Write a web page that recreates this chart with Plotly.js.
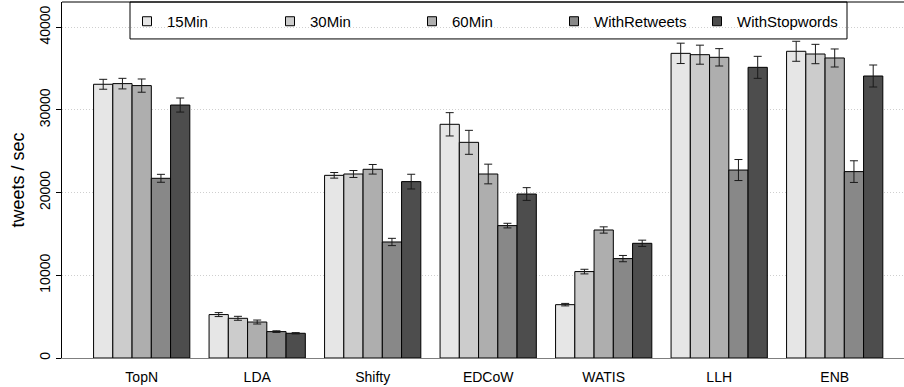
<!DOCTYPE html>
<html>
<head>
<meta charset="utf-8">
<script src="https://cdn.plot.ly/plotly-3.0.1.min.js"></script>
<style>
  html, body { margin: 0; padding: 0; background: #ffffff; }
  #chart { width: 904px; height: 387px; }
</style>
</head>
<body>
<div id="chart"></div>
<script>
// ---- data ----
const categories = ["TopN", "LDA", "Shifty", "EDCoW", "WATIS", "LLH", "ENB"];
const seriesNames = ["15Min", "30Min", "60Min", "WithRetweets", "WithStopwords"];

const min15       = [33100, 5250, 22090, 28260, 6450, 36840, 37090];
const min30       = [33180, 4800, 22250, 26080, 10450, 36680, 36760];
const min60       = [32940, 4350, 22820, 22250, 15480, 36360, 36280];
const withRetweets  = [21730, 3190, 14030, 16010, 12020, 22730, 22540];
const withStopwords = [30590, 2990, 21330, 19830, 13870, 35150, 34100];

const err15       = [600, 240, 340, 1410, 150, 1230, 1210];
const err30       = [640, 240, 420, 1450, 280, 1150, 1170];
const err60       = [800, 240, 580, 1190, 380, 1050, 1090];
const errRetweets = [480, 100, 440, 280, 380, 1270, 1310];
const errStopwords= [850, 80, 890, 770, 380, 1330, 1330];

const yTicks = [0, 10000, 20000, 30000, 40000];

// ---- styling ----
const values = [min15, min30, min60, withRetweets, withStopwords];
const errors = [err15, err30, err60, errRetweets, errStopwords];
const colors = ["#E6E6E6", "#CCCCCC", "#AEAEAE", "#888888", "#4D4D4D"];
const FONT = "Liberation Sans, Arial, Helvetica, sans-serif";

// legend key centres (px) in the reference
const legendKeyPx = [147, 290, 432, 574, 717];
const legendIds = ["legend", "legend2", "legend3", "legend4", "legend5"];

const traces = [];
values.forEach((v, i) => {
  traces.push({
    type: "bar",
    name: seriesNames[i],
    x: categories,
    y: v,
    showlegend: false,
    marker: { color: colors[i], line: { color: "#000000", width: 1 } },
    error_y: { type: "data", array: errors[i], visible: true,
               color: "#1a1a1a", thickness: 1, width: 4 },
    hoverinfo: "x+y+name"
  });
});
// legend entries (small square keys like the reference)
values.forEach((v, i) => {
  traces.push({
    type: "scatter",
    mode: "markers",
    name: seriesNames[i],
    x: [categories[0]],
    y: [null],
    showlegend: true,
    legend: legendIds[i],
    marker: { symbol: "square", size: 9, color: colors[i],
              line: { color: "#000000", width: 1 } },
    hoverinfo: "skip"
  });
});

const plotL = 62, plotW = 842, plotBottom = 358.5, plotH = 356.5;

const layout = {
  width: 904,
  height: 387,
  margin: { l: plotL, r: 0, t: 2, b: 387 - plotBottom, pad: 0 },
  paper_bgcolor: "#ffffff",
  plot_bgcolor: "#ffffff",
  font: { family: FONT, size: 14, color: "#000000" },
  barmode: "group",
  bargap: 1 / 6,
  bargroupgap: 0,
  showlegend: true,
  xaxis: {
    type: "category",
    range: [-0.69, 6.6],
    showgrid: false,
    zeroline: false,
    showline: true,
    linecolor: "#7f7f7f",
    linewidth: 1,
    ticks: "",
    ticklabelstandoff: 6,
    tickfont: { family: FONT, size: 14, color: "#000000" },
    fixedrange: true
  },
  yaxis: {
    range: [0, 43050],
    tickvals: yTicks,
    ticktext: yTicks.map(String),
    tickangle: -90,
    ticks: "outside",
    ticklen: 5,
    tickcolor: "#000000",
    tickwidth: 1,
    showline: true,
    linecolor: "#000000",
    linewidth: 1,
    zeroline: false,
    showgrid: true,
    gridcolor: "#cfcfcf",
    griddash: "1px,2px",
    gridwidth: 1,
    tickfont: { family: FONT, size: 14, color: "#000000" },
    title: { text: "tweets / sec", font: { family: FONT, size: 18, color: "#000000" }, standoff: 8 },
    fixedrange: true
  },
  shapes: [
    { type: "line", xref: "paper", yref: "paper", x0: 0, x1: 1, y0: 1, y1: 1,
      line: { color: "#000000", width: 1 } },
    { type: "rect", xref: "paper", yref: "paper",
      x0: (130 - plotL) / plotW, x1: (847 - plotL) / plotW,
      y0: (plotBottom - 39) / plotH, y1: 1,
      line: { color: "#000000", width: 1 }, fillcolor: "rgba(0,0,0,0)", layer: "above" }
  ]
};

legendIds.forEach((id, i) => {
  layout[id] = {
    orientation: "h",
    x: (legendKeyPx[i] - 20 - plotL) / plotW, xanchor: "left",
    y: (plotBottom - 5) / plotH, yanchor: "top",
    bgcolor: "rgba(0,0,0,0)",
    borderwidth: 0,
    font: { family: FONT, size: 15, color: "#000000" }
  };
});

Plotly.newPlot("chart", traces, layout, { displayModeBar: false, staticPlot: true });
</script>
</body>
</html>
